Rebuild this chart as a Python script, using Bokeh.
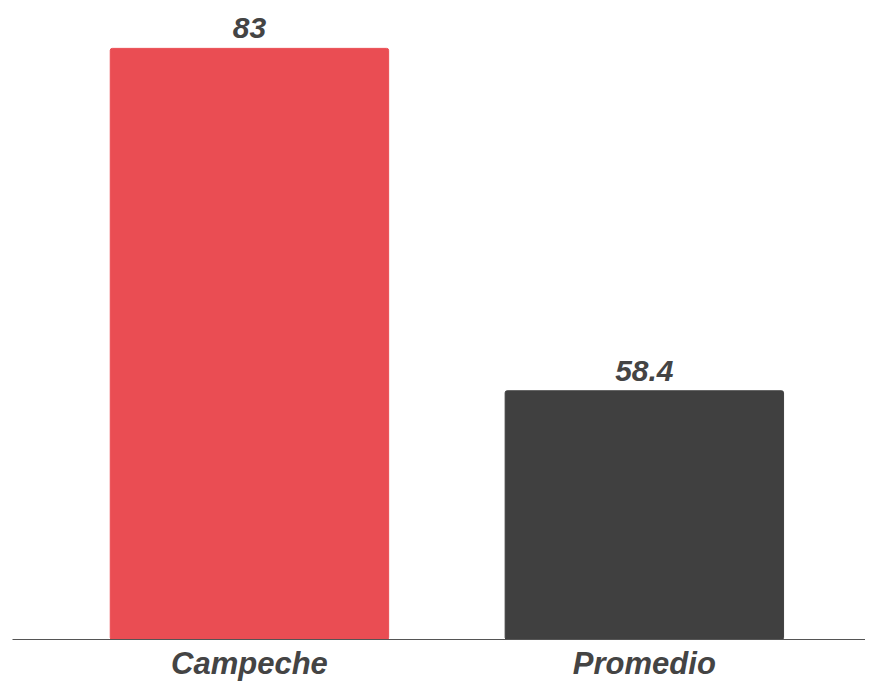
from bokeh.plotting import figure
from bokeh.models import ColumnDataSource, Range1d, FixedTicker, LabelSet
from bokeh.core.properties import value
from bokeh.embed import file_html
from bokeh.resources import INLINE

categories = ["Campeche", "Promedio"]
values = [83, 58.4]
labels = ["83", "58.4"]
colors = ["#EA4D53", "#404040"]

xpos = [i + 0.5 for i in range(len(categories))]
src = ColumnDataSource(dict(x=xpos, top=values, label=labels, color=colors))

y0 = 40.53
p = figure(width=865, height=683, output_backend="svg", toolbar_location=None,
           x_range=Range1d(-0.1, 2.06), y_range=Range1d(y0, 86.44),
           min_border_left=12, min_border_right=0, min_border_top=0, min_border_bottom=0)

p.vbar(x="x", top="top", bottom=y0, width=0.705, color="color", source=src,
       border_radius=2)

p.add_layout(LabelSet(x="x", y="top", text="label", source=src, text_align="center",
                      text_baseline="alphabetic", y_offset=10, text_font_size="30px",
                      text_font_style="bold italic", text_color="#444444",
                      text_font=value("Liberation Sans")))

p.yaxis.visible = False
p.xgrid.visible = False
p.ygrid.visible = False
p.outline_line_color = None
p.xaxis.ticker = FixedTicker(ticks=xpos)
p.xaxis.major_label_overrides = {x: c for x, c in zip(xpos, categories)}
p.xaxis.major_tick_line_color = None
p.xaxis.major_tick_out = 0
p.xaxis.major_tick_in = 0
p.xaxis.minor_tick_line_color = None
p.xaxis.axis_line_color = "#555555"
p.xaxis.axis_line_width = 1.2
p.xaxis.major_label_text_font = "Liberation Sans"
p.xaxis.major_label_text_font_style = "bold italic"
p.xaxis.major_label_text_font_size = "31px"
p.xaxis.major_label_text_color = "#444444"
p.xaxis.major_label_standoff = 6

open("out.html", "w").write(file_html(p, INLINE))
